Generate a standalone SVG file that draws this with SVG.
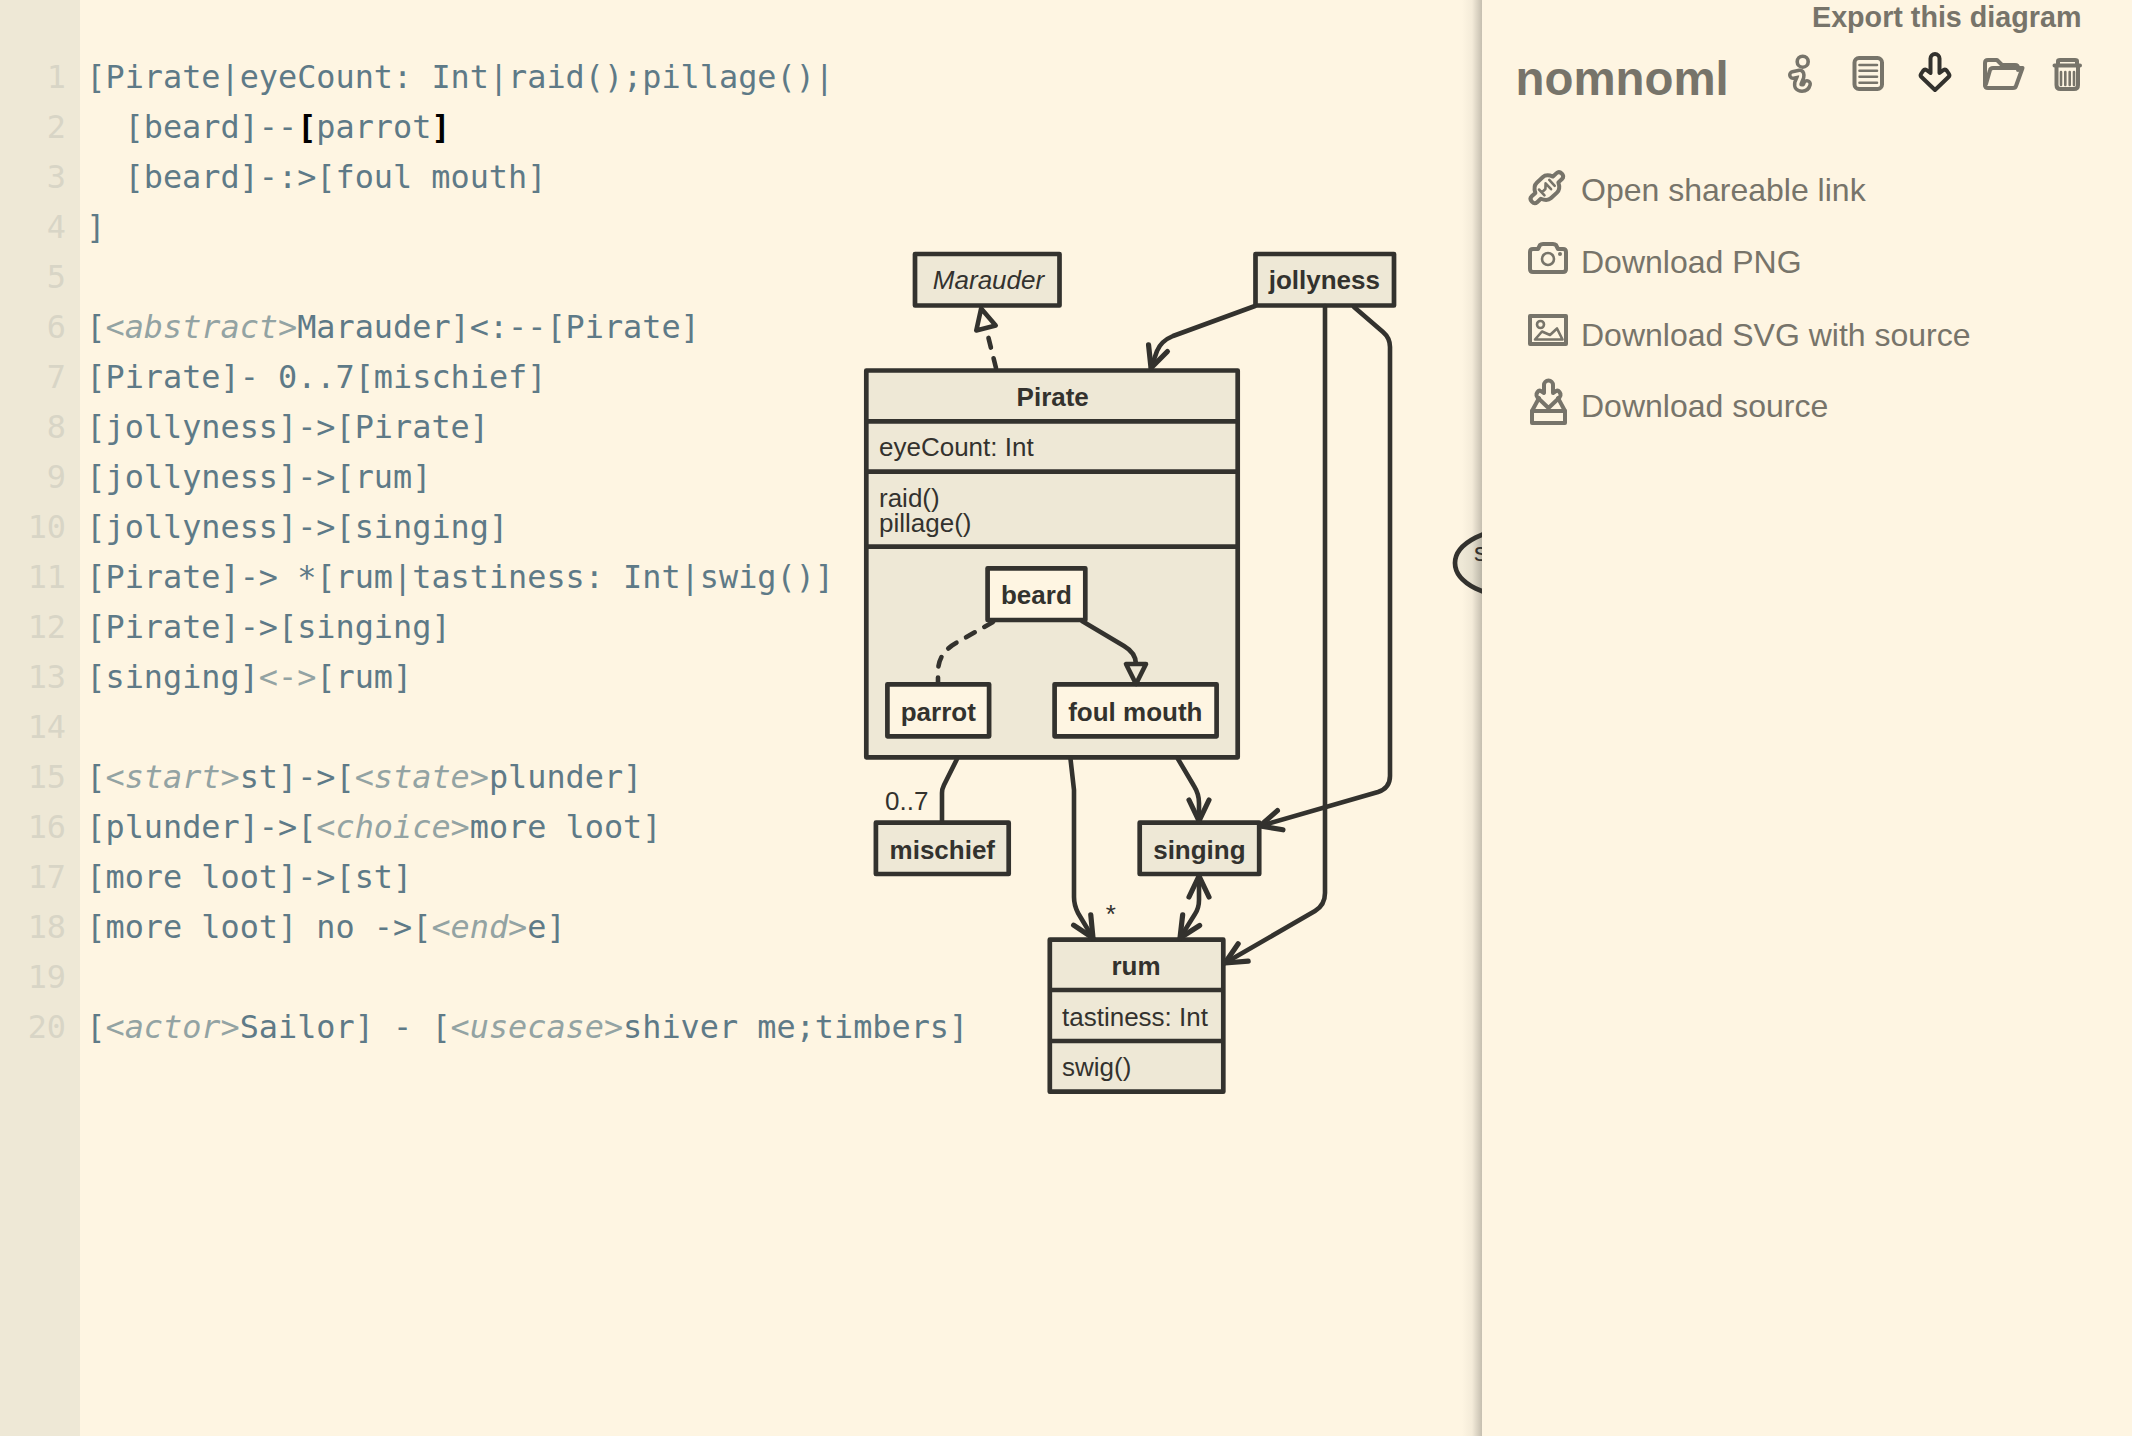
<svg xmlns="http://www.w3.org/2000/svg" width="2132" height="1436" viewBox="0 0 2132 1436">
<style>
text{font-family:"Liberation Sans",Arial,sans-serif;fill:#33322e;font-size:26px}
.code{font-family:"DejaVu Sans Mono","Liberation Mono",monospace;font-size:31.85px;fill:#5e7a87;white-space:pre}
.num{font-family:"DejaVu Sans Mono","Liberation Mono",monospace;font-size:31.85px;fill:#d8d5c6;text-anchor:end}
.cm{font-style:italic;fill:#93a3a3}
.op{fill:#93a3a3}
.br{fill:#000;font-weight:bold}
.b{font-weight:bold}
.m{text-anchor:middle}
.i{font-style:italic}
.box{fill:#eee8d6;stroke:#33322e;stroke-width:4.7;stroke-linejoin:round}
.in{fill:#fef5e2}
.div{stroke:#33322e;stroke-width:4.7}
.edge{fill:none;stroke:#33322e;stroke-width:4.6;stroke-linecap:round;stroke-linejoin:round}
.dash{stroke-dasharray:10 11;stroke-linecap:round}
.ui{fill:#77746a}
.title{font-size:28.7px;font-weight:bold}
.logo{font-size:47.4px;font-weight:bold}
.menu{font-size:32px}
.ic{fill:none;stroke:#77746a;stroke-width:4;stroke-linejoin:round;stroke-linecap:round}
.thin{stroke-width:2.6}
.dk{stroke:#33322e}
</style>
<defs>
<marker id="arrow" markerUnits="userSpaceOnUse" orient="auto-start-reverse" refX="0" refY="0" markerWidth="40" markerHeight="40" viewBox="-30 -20 40 40" overflow="visible">
<path d="M-21 -10 L0 0 L-21 10" fill="none" stroke="#33322e" stroke-width="5.2" stroke-linecap="round" stroke-linejoin="round"/>
</marker>
<marker id="tri" markerUnits="userSpaceOnUse" orient="auto" refX="0" refY="0" markerWidth="40" markerHeight="40" viewBox="-10 -20 40 40" overflow="visible">
<path d="M0 -10 L20 0 L0 10 Z" fill="#fef5e2" stroke="#33322e" stroke-width="4.6" stroke-linejoin="round"/>
</marker>
<marker id="tri2" markerUnits="userSpaceOnUse" orient="auto" refX="0" refY="0" markerWidth="40" markerHeight="40" viewBox="-10 -20 40 40" overflow="visible">
<path d="M0 -10 L20 0 L0 10 Z" fill="#eee8d6" stroke="#33322e" stroke-width="4.6" stroke-linejoin="round"/>
</marker>
<linearGradient id="sh" x1="0" x2="1" y1="0" y2="0">
<stop offset="0" stop-color="#33322e" stop-opacity="0"/>
<stop offset="0.5" stop-color="#33322e" stop-opacity="0.05"/>
<stop offset="1" stop-color="#33322e" stop-opacity="0.28"/>
</linearGradient>
</defs>
<rect id="background" width="2132" height="1436" fill="#fef5e2"/>
<g id="editor">
<rect id="gutter" width="80" height="1436" fill="#eee8d6"/>
<g id="line-numbers">
<text class="num" x="66" y="88">1</text><text class="num" x="66" y="138">2</text><text class="num" x="66" y="188">3</text><text class="num" x="66" y="238">4</text><text class="num" x="66" y="288">5</text><text class="num" x="66" y="338">6</text><text class="num" x="66" y="388">7</text><text class="num" x="66" y="438">8</text><text class="num" x="66" y="488">9</text><text class="num" x="66" y="538">10</text><text class="num" x="66" y="588">11</text><text class="num" x="66" y="638">12</text><text class="num" x="66" y="688">13</text><text class="num" x="66" y="738">14</text><text class="num" x="66" y="788">15</text><text class="num" x="66" y="838">16</text><text class="num" x="66" y="888">17</text><text class="num" x="66" y="938">18</text><text class="num" x="66" y="988">19</text><text class="num" x="66" y="1038">20</text>
</g>
<g id="code">
<text class="code" x="86.300" y="88">[Pirate|eyeCount: Int|raid();pillage()|</text>
<text class="code" x="124.600" y="138">[beard]--<tspan class="br">[</tspan>parrot<tspan class="br">]</tspan></text>
<text class="code" x="124.600" y="188">[beard]-:&gt;[foul mouth]</text>
<text class="code" x="86.300" y="238">]</text>
<text class="code" x="86.300" y="338">[<tspan class="cm">&lt;abstract&gt;</tspan>Marauder]&lt;:--[Pirate]</text>
<text class="code" x="86.300" y="388">[Pirate]- 0..7[mischief]</text>
<text class="code" x="86.300" y="438">[jollyness]-&gt;[Pirate]</text>
<text class="code" x="86.300" y="488">[jollyness]-&gt;[rum]</text>
<text class="code" x="86.300" y="538">[jollyness]-&gt;[singing]</text>
<text class="code" x="86.300" y="588">[Pirate]-&gt; *[rum|tastiness: Int|swig()]</text>
<text class="code" x="86.300" y="638">[Pirate]-&gt;[singing]</text>
<text class="code" x="86.300" y="688">[singing]<tspan class="op">&lt;-&gt;</tspan>[rum]</text>
<text class="code" x="86.300" y="788">[<tspan class="cm">&lt;start&gt;</tspan>st]-&gt;[<tspan class="cm">&lt;state&gt;</tspan>plunder]</text>
<text class="code" x="86.300" y="838">[plunder]-&gt;[<tspan class="cm">&lt;choice&gt;</tspan>more loot]</text>
<text class="code" x="86.300" y="888">[more loot]-&gt;[st]</text>
<text class="code" x="86.300" y="938">[more loot] no -&gt;[<tspan class="cm">&lt;end&gt;</tspan>e]</text>
<text class="code" x="86.300" y="1038">[<tspan class="cm">&lt;actor&gt;</tspan>Sailor] - [<tspan class="cm">&lt;usecase&gt;</tspan>shiver me;timbers]</text>
</g>
</g>
<g id="diagram">
<g id="node-usecase">
<ellipse class="box" cx="1525" cy="563" rx="70" ry="36"/>
<text x="1474" y="561">s</text>
</g>
<g id="node-marauder"><rect class="box" x="915" y="254" width="144.500" height="51.500"/><text class="m i" x="988.500" y="289">Marauder</text></g>
<g id="node-jollyness"><rect class="box" x="1255.500" y="254" width="138.500" height="51.500"/><text class="m b" x="1324.300" y="289">jollyness</text></g>
<g id="node-pirate">
<rect class="box" x="866.300" y="370.500" width="371.400" height="386.800"/>
<line class="div" x1="866.300" x2="1237.700" y1="421.300" y2="421.300"/>
<line class="div" x1="866.300" x2="1237.700" y1="471.700" y2="471.700"/>
<line class="div" x1="866.300" x2="1237.700" y1="546.700" y2="546.700"/>
<text class="m b" x="1052.700" y="405.700">Pirate</text>
<text x="879" y="456.300">eyeCount: Int</text>
<text x="879" y="506.700">raid()</text>
<text x="879" y="531.500">pillage()</text>
</g>
<g id="node-beard"><rect class="box in" x="987.600" y="568.300" width="97.700" height="51.700"/><text class="m b" x="1036.400" y="604">beard</text></g>
<g id="node-parrot"><rect class="box in" x="887.400" y="684.300" width="101.700" height="52"/><text class="m b" x="938.300" y="720.500">parrot</text></g>
<g id="node-foul-mouth"><rect class="box in" x="1054.600" y="684.300" width="162" height="52"/><text class="m b" x="1135.300" y="720.500">foul mouth</text></g>
<g id="node-mischief"><rect class="box" x="875.900" y="822.700" width="132.800" height="51.300"/><text class="m b" x="942.300" y="859">mischief</text></g>
<g id="node-singing"><rect class="box" x="1139.700" y="822.700" width="119.500" height="51.300"/><text class="m b" x="1199.400" y="859">singing</text></g>
<g id="node-rum">
<rect class="box" x="1049.800" y="939.700" width="173.500" height="152"/>
<line class="div" x1="1049.800" x2="1223.300" y1="990" y2="990"/>
<line class="div" x1="1049.800" x2="1223.300" y1="1041" y2="1041"/>
<text class="m b" x="1136" y="975">rum</text>
<text x="1062" y="1025.700">tastiness: Int</text>
<text x="1062" y="1075.700">swig()</text>
</g>
<g id="connectors">
<path class="edge dash" marker-end="url(#tri)" d="M996 368 L986 328"/>
<path class="edge" marker-end="url(#arrow)" d="M1255 306 L1173 336 Q1161 341 1157 351 L1151 368"/>
<path class="edge" marker-end="url(#arrow)" d="M1325 306 V893 Q1325 905 1315 911 L1225 963"/>
<path class="edge" marker-end="url(#arrow)" d="M1354 307 L1383 332 Q1390 338 1390 347 V776 Q1390 788 1378 792 L1260 826"/>
<path class="edge" d="M957 759 L944 785 Q942 789 942 793 V822"/>
<path class="edge" marker-end="url(#arrow)" d="M1070.500 759 L1074 790 V897 Q1074 905 1078 913 L1093 938"/>
<path class="edge" marker-end="url(#arrow)" d="M1178 759 L1194 786 Q1199 794 1199 803 V821"/>
<path class="edge" marker-start="url(#arrow)" marker-end="url(#arrow)" d="M1199 876 V900 Q1199 908 1195 914 L1180 938"/>
<path class="edge dash" d="M993 622 L956 643 Q938 653 938 672 L938 682"/>
<path class="edge" marker-end="url(#tri2)" d="M1082 621 L1124 646 Q1136 653 1136 664"/>
<text x="885" y="809.500">0..7</text>
<text x="1105.700" y="923">*</text>
</g>
</g>
<rect id="panel-shadow" x="1462" y="0" width="20" height="1436" fill="url(#sh)"/>
<g id="panel">
<rect x="1482" y="0" width="650" height="1436" fill="#fef5e2"/>
<text class="ui title" x="1812" y="27">Export this diagram</text>
<text class="ui logo" x="1515.500" y="95">nomnoml</text>
<g id="icon-info">
<path d="M1793 75 L1800 73.500 Q1801 74 1800.500 77 L1798 83 Q1797 88 1802 88 Q1806 88 1807 84" fill="none" stroke="#77746a" stroke-width="10" stroke-linecap="round" stroke-linejoin="round"/>
<path d="M1793 75 L1800 73.500 Q1801 74 1800.500 77 L1798 83 Q1797 88 1802 88 Q1806 88 1807 84" fill="none" stroke="#fef5e2" stroke-width="3" stroke-linecap="round" stroke-linejoin="round"/>
<circle cx="1802.700" cy="61.700" r="5.500" fill="#fef5e2" stroke="#77746a" stroke-width="3.600"/>
</g>
<g id="icon-doc">
<rect class="ic" x="1854.500" y="58" width="27.500" height="31" rx="4.500"/>
<path class="ic thin" d="M1859.500 65H1877M1859.500 70.700H1877M1859.500 76.700H1877M1859.500 82.700H1877"/>
</g>
<g id="icon-export">
<path class="ic dk" d="M1930.500 58.500a4.500 4.500 0 0 1 9 0V73L1943.500 70Q1945.500 69 1947 71L1949 74Q1950 75.500 1948.500 77L1935 90L1921.500 77Q1920 75.500 1921 74L1923 71Q1924.500 69 1926.500 70L1930.500 73Z"/>
</g>
<g id="icon-folder">
<path class="ic" d="M1985 85V63Q1985 60 1988 60H1997L2002 65H2015Q2018 65 2018 68V70"/>
<path class="ic" d="M1985 85Q1985 88 1988 88H2013Q2015.500 88 2016 86L2022.500 68H1993Q1990.500 68 1990 70L1986 84"/>
</g>
<g id="icon-trash">
<path class="ic" d="M2058 65V61Q2058 60 2060 60H2075Q2077 60 2077 61V65M2054.500 65.500H2080"/>
<path class="ic" d="M2056.500 67V85Q2056.500 89 2060.500 89H2074Q2078 89 2078 85V67"/>
<path class="ic thin" d="M2061 72V85M2065.300 72V85M2069.700 72V85M2074 72V85"/>
</g>
<g id="menu-link">
<g transform="rotate(-43 1546.500 188)">
<path class="ic" d="M1530 184H1535Q1538 177.500 1543 177.500H1551Q1556 177.500 1559 184H1564Q1567.500 184 1567.500 188Q1567.500 192 1564 192H1559Q1556 198.500 1551 198.500H1543Q1538 198.500 1535 192H1530Q1526.500 192 1526.500 188Q1526.500 184 1530 184Z"/>
<path class="ic thin" d="M1540 184V192M1540 188H1545L1549 184V192M1554 184V192"/>
</g>
<text class="ui menu" x="1581" y="200.700">Open shareable link</text>
</g>
<g id="menu-png">
<path class="ic" d="M1530 252Q1530 249 1533 249H1538L1540 245Q1541 244 1543 244H1553Q1555 244 1556 245L1558 249H1563Q1566 249 1566 252V269Q1566 272 1563 272H1533Q1530 272 1530 269Z"/>
<circle class="ic thin" cx="1548" cy="259" r="6"/>
<circle cx="1560" cy="254" r="2" fill="#77746a"/>
<text class="ui menu" x="1581" y="273.300">Download PNG</text>
</g>
<g id="menu-svg">
<rect class="ic" x="1530" y="316" width="36" height="28"/>
<circle class="ic thin" cx="1540.500" cy="324.500" r="3.500"/>
<path class="ic thin" d="M1535 339.500L1542 331.500L1550 335L1557 328.500L1562.500 339.500Z"/>
<text class="ui menu" x="1581" y="345.700">Download SVG with source</text>
</g>
<g id="menu-source">
<path class="ic" d="M1539 398L1532 411M1558 398L1565 411"/>
<rect class="ic" x="1532" y="411" width="33" height="12"/>
<path class="ic" d="M1544 393V385a4.500 4.500 0 0 1 9 0V393L1556 391Q1558 390 1559.500 392L1560.500 394Q1561 396 1559.500 397.500L1548.500 408L1537.500 397.500Q1536 396 1536.500 394L1537.500 392Q1539 390 1541 391Z"/>
<text class="ui menu" x="1581" y="417.300">Download source</text>
</g>
</g>
</svg>
